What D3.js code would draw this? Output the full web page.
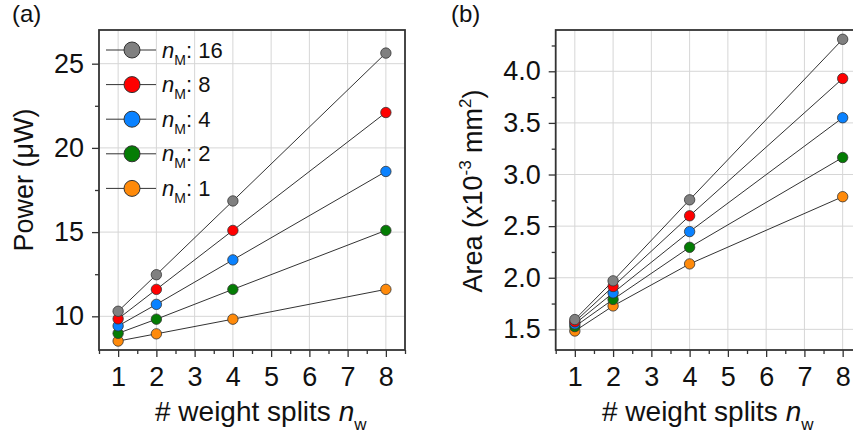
<!DOCTYPE html>
<html>
<head>
<meta charset="utf-8">
<script src="https://cdn.jsdelivr.net/npm/d3@7"></script>
<style>
    body { margin: 0; background: #fff; }
    svg { display: block; font-family: "Liberation Sans", Arial, sans-serif; }
    .tick text { fill: #111; }
</style>
</head>
<body>
<div id="chart"></div>
<script>
// weight splits (x) and n_M series
const splits = [1, 2, 4, 8];
const seriesNames = ["16", "8", "4", "2", "1"];
const seriesColors = ["#808080", "#ff0000", "#0a82ff", "#047d04", "#ff8a0a"];

// (a) power in uW, one array per n_M
const power16 = [10.3, 12.47, 16.85, 25.63];
const power8 = [9.85, 11.6, 15.1, 22.1];
const power4 = [9.43, 10.71, 13.35, 18.6];
const power2 = [8.99, 9.83, 11.6, 15.1];
const power1 = [8.53, 8.96, 9.83, 11.6];

// (b) area in 1e-3 mm^2
const area16 = [1.595, 1.97, 2.755, 4.31];
const area8 = [1.573, 1.915, 2.6, 3.93];
const area4 = [1.553, 1.853, 2.447, 3.55];
const area2 = [1.527, 1.79, 2.295, 3.165];
const area1 = [1.484, 1.727, 2.134, 2.785];

const xTicks = [1, 2, 3, 4, 5, 6, 7, 8];
const xMinor = [0.5, 1.5, 2.5, 3.5, 4.5, 5.5, 6.5, 7.5, 8.5];
const powerTicks = [10, 15, 20, 25];
const powerMinor = [12.5, 17.5, 22.5];
const areaTicks = [1.5, 2.0, 2.5, 3.0, 3.5, 4.0];
const areaMinor = [1.75, 2.25, 2.75, 3.25, 3.75, 4.25];

const W = 853, H = 440;
const plotTop = 30, plotBottom = 350;

const svg = d3.select("#chart").append("svg")
    .attr("width", W)
    .attr("height", H);

function panel(opt) {
    const x = d3.scaleLinear().domain([0.5, 8.5]).range([opt.left, opt.right]);
    const y = d3.scaleLinear().domain(opt.yDomain).range([plotBottom, plotTop]);
    const g = svg.append("g");

    // grid
    g.append("g").selectAll("line").data(xTicks).enter().append("line")
        .attr("x1", d => x(d)).attr("x2", d => x(d))
        .attr("y1", plotTop).attr("y2", plotBottom)
        .attr("stroke", "#d6d6d6").attr("stroke-width", 1);
    g.append("g").selectAll("line").data(opt.yTicks).enter().append("line")
        .attr("x1", opt.left).attr("x2", opt.right)
        .attr("y1", d => y(d)).attr("y2", d => y(d))
        .attr("stroke", "#d6d6d6").attr("stroke-width", 1);

    // axes
    const xa = g.append("g").attr("transform", "translate(0," + plotBottom + ")")
        .call(d3.axisBottom(x).tickValues(xTicks).tickSize(7).tickPadding(10).tickFormat(d3.format("d")));
    const xm = g.append("g").attr("transform", "translate(0," + plotBottom + ")")
        .call(d3.axisBottom(x).tickValues(xMinor).tickSize(4).tickFormat(""));
    const ya = g.append("g").attr("transform", "translate(" + opt.left + ",0)")
        .call(d3.axisLeft(y).tickValues(opt.yTicks).tickSize(7).tickPadding(8).tickFormat(opt.fmt));
    const ym = g.append("g").attr("transform", "translate(" + opt.left + ",0)")
        .call(d3.axisLeft(y).tickValues(opt.yMinor).tickSize(4).tickFormat(""));
    [xa, xm, ya, ym].forEach(a => {
        a.select(".domain").remove();
        a.selectAll("line").attr("stroke", "#333").attr("stroke-width", 1.3);
        a.selectAll("text").attr("font-family", "Liberation Sans, Arial, sans-serif");
    });
    xa.selectAll("text").attr("font-size", 27);
    ya.selectAll("text").attr("font-size", 27);

    // frame
    g.append("rect")
        .attr("x", opt.left).attr("y", plotTop)
        .attr("width", opt.right - opt.left).attr("height", plotBottom - plotTop)
        .attr("fill", "none").attr("stroke", "#333").attr("stroke-width", 1.8);

    // series
    const line = d3.line().x((d, i) => x(splits[i])).y(d => y(d));
    opt.series.forEach(vals => {
        g.append("path").datum(vals)
            .attr("d", line)
            .attr("fill", "none").attr("stroke", "#333").attr("stroke-width", 1);
    });
    opt.series.slice().reverse().forEach((vals, kk) => {
        const k = opt.series.length - 1 - kk;
        g.append("g").selectAll("circle").data(vals).enter().append("circle")
            .attr("cx", (d, i) => x(splits[i]))
            .attr("cy", d => y(d))
            .attr("r", 5.2)
            .attr("fill", seriesColors[k])
            .attr("stroke", "#333").attr("stroke-width", 0.8);
    });

    // panel tag
    svg.append("text").attr("x", opt.tagX).attr("y", 22)
        .attr("font-size", 24).attr("fill", "#111").text(opt.tag);

    // x title, placed from its measured left edge
    const xt = svg.append("text")
        .attr("x", opt.titleLeft).attr("y", 421)
        .attr("font-size", 28).attr("fill", "#111");
    xt.append("tspan").text("# weight splits ");
    xt.append("tspan").attr("font-style", "italic").text("n");
    xt.append("tspan").attr("font-size", 17).attr("dy", 9).text("w");
    const bb = xt.node().getBBox();
    xt.attr("x", opt.titleLeft - (bb.x - opt.titleLeft));

    return {x, y, g};
}

panel({
    left: 99, right: 405, yDomain: [8, 27],
    yTicks: powerTicks, yMinor: powerMinor, fmt: d3.format("d"),
    series: [power16, power8, power4, power2, power1],
    tag: "(a)", tagX: 12, titleLeft: 155
});

panel({
    left: 555.7, right: 861.8, yDomain: [1.3, 4.4],
    yTicks: areaTicks, yMinor: areaMinor, fmt: d3.format(".1f"),
    series: [area16, area8, area4, area2, area1],
    tag: "(b)", tagX: 451, titleLeft: 602
});

// y titles
const yta = svg.append("text")
    .attr("transform", "translate(33,180) rotate(-90)")
    .attr("text-anchor", "middle").attr("font-size", 27).attr("fill", "#111");
yta.append("tspan").text("Power (\u03bcW)");

const ytb = svg.append("text")
    .attr("transform", "translate(482,191) rotate(-90)")
    .attr("text-anchor", "middle").attr("font-size", 27).attr("fill", "#111");
ytb.append("tspan").text("Area (x10");
ytb.append("tspan").attr("font-size", 17).attr("dy", -11).text("-3");
ytb.append("tspan").attr("dy", 11).text(" mm");
ytb.append("tspan").attr("font-size", 17).attr("dy", -11).text("2");
ytb.append("tspan").attr("dy", 11).text(")");

// legend in panel (a)
const legend = svg.append("g")
    .selectAll("g")
    .data(seriesNames)
    .enter().append("g")
    .attr("transform", (d, i) => "translate(106," + (50 + i * 34.6) + ")");

legend.append("line")
    .attr("x1", 0).attr("x2", 50)
    .attr("stroke", "#333").attr("stroke-width", 1);
legend.append("circle")
    .attr("cx", 26).attr("r", 8)
    .attr("fill", (d, i) => seriesColors[i])
    .attr("stroke", "#333").attr("stroke-width", 1);
const lt = legend.append("text")
    .attr("x", 56).attr("y", 7.5)
    .attr("font-size", 22).attr("fill", "#111");
lt.append("tspan").attr("font-style", "italic").text("n");
lt.append("tspan").attr("font-size", 14).attr("dy", 7).text("M");
lt.append("tspan").attr("dy", -7).text(": ");
lt.append("tspan").text(d => d);
</script>
</body>
</html>
